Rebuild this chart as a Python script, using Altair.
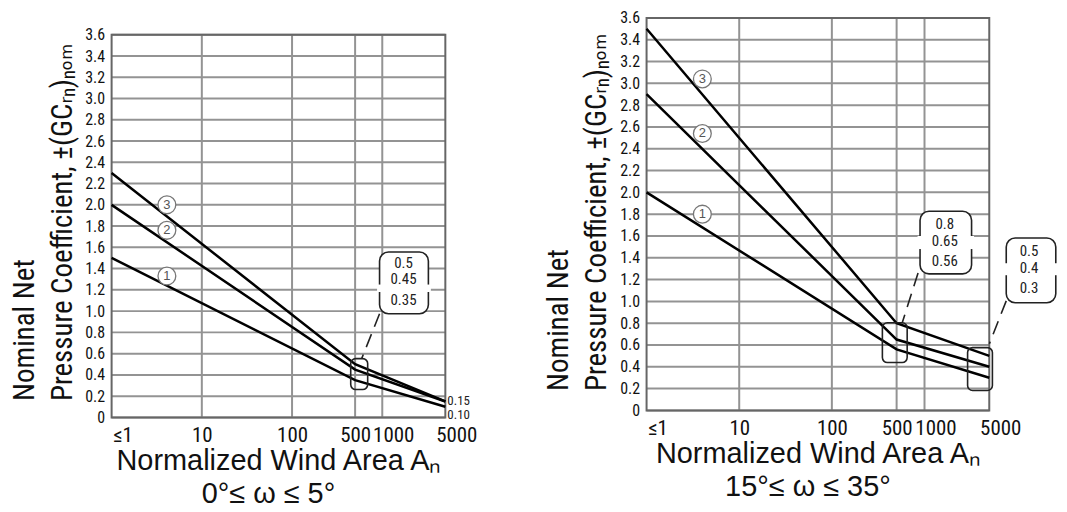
import altair as alt
import pandas as pd

# ---------------- data ----------------
area_pts = [1, 500, 5000]                 # normalized wind area vertices
left_zone1 = [1.5, 0.35, 0.10]
left_zone2 = [2.0, 0.45, 0.15]
left_zone3 = [2.3, 0.5, 0.15]
right_zone1 = [2.0, 0.56, 0.3]
right_zone2 = [2.9, 0.65, 0.4]
right_zone3 = [3.5, 0.8, 0.5]
zone_names = ["1", "2", "3"]

y_tick_values = [0, 0.2, 0.4, 0.6, 0.8, 1.0, 1.2, 1.4, 1.6, 1.8, 2.0,
                 2.2, 2.4, 2.6, 2.8, 3.0, 3.2, 3.4, 3.6]
x_tick_values = [1, 10, 100, 500, 1000, 5000]
x_inner_grid = [10, 100, 500, 1000]

# circled zone markers (area, coefficient)
left_marker_x = [4.1, 4.1, 4.1]
left_marker_y = [1.33, 1.76, 2.0]
right_marker_x = [4.0, 4.0, 4.0]
right_marker_y = [1.80, 2.54, 3.04]

# call-out annotations (values shown in boxes)
left_call_text = ["0.5", "0.45", "0.35"]
left_call_text_y = [1.45, 1.30, 1.10]
right_call1_text = ["0.8", "0.65", "0.56"]
right_call1_text_y = [1.71, 1.55, 1.37]
right_call2_text = ["0.5", "0.4", "0.3"]
right_call2_text_y = [1.46, 1.31, 1.12]

left_end_labels = ["0.15", "0.10"]
left_end_label_y = [0.15, 0.02]

Y_TITLE = ["Nominal Net", "Pressure Coefficient, \u00b1(GC\u1d63\u2099)\u2099\u2092\u2098"]
PAD = "\u2800"   # blank (non-whitespace) glyph used to nudge the centred second title line

NARROW = ("Liberation Sans Narrow, Arial Narrow, Roboto Condensed, PT Sans Narrow, "
          "Archivo Narrow, DejaVu Sans Condensed, sans-serif")
SANS = "Liberation Sans, Arial, sans-serif"


def panel(zones, mx, my, callouts, end_labels, ytop, w, h, angle_text,
          title_x, title_y):
    xs = alt.Scale(type="log", domain=[1, 5000])
    ys = alt.Scale(domain=[0, ytop])

    xaxis = alt.Axis(values=x_tick_values, grid=False, ticks=False, domain=False,
                     labelExpr="datum.value < 2 ? '\u22641' : datum.value",
                     labelFont=NARROW, labelFontSize=21, labelColor="#111",
                     labelPadding=7, labelOverlap=False, labelFlush=False,
                     labelOffset={"condition": {"test": "datum.value < 2 || datum.value > 900",
                                                "value": 11}, "value": 0},
                     title=["Normalized Wind Area A\u2099", angle_text],
                     titleFont=SANS, titleFontSize=29, titleFontWeight="normal",
                     titleColor="#111", titleLineHeight=33, titlePadding=1)
    yaxis = alt.Axis(values=y_tick_values, grid=False, ticks=False, domain=False,
                     labelExpr="datum.value == 0 ? '0' : format(datum.value, '.1f')",
                     labelFont=NARROW, labelFontSize=16, labelColor="#111",
                     labelPadding=7, labelOverlap=False, labelFlush=False,
                     title=Y_TITLE, titleFont=NARROW, titleFontSize=29,
                     titleFontWeight="normal", titleColor="#111",
                     titleAngle=270, titleAlign="left", titleBaseline="middle",
                     titleLineHeight=38, titleX=title_x, titleY=title_y)

    def X(f="a:Q"):
        return alt.X(f, scale=xs, axis=xaxis)

    def Y(f="v:Q"):
        return alt.Y(f, scale=ys, axis=yaxis)

    hgrid_df = pd.DataFrame({"a": [1] * len(y_tick_values),
                             "a2": [5000] * len(y_tick_values),
                             "v": y_tick_values})
    hgrid = alt.Chart(hgrid_df).mark_rule(color="#939393", strokeWidth=2).encode(
        x=X(), x2="a2:Q", y=Y())

    vgrid_df = pd.DataFrame({"a": x_inner_grid, "v": [0] * 4, "v2": [3.6] * 4})
    vgrid = alt.Chart(vgrid_df).mark_rule(color="#939393", strokeWidth=2).encode(
        x=X(), y=Y(), y2="v2:Q")

    border_df = pd.DataFrame({"a": [1], "a2": [5000], "v": [0], "v2": [3.6]})
    border = alt.Chart(border_df).mark_rect(fill=None, stroke="#666", strokeWidth=2).encode(
        x=X(), x2="a2:Q", y=Y(), y2="v2:Q")

    rows = []
    for name, vals in zip(zone_names, zones):
        for a, v in zip(area_pts, vals):
            rows.append({"zone": name, "a": a, "v": v})
    lines = alt.Chart(pd.DataFrame(rows)).mark_line(color="black", strokeWidth=2.5).encode(
        x=X(), y=Y(), detail="zone:N")

    mk_df = pd.DataFrame({"a": mx, "v": my, "t": zone_names})
    mk_circle = alt.Chart(mk_df).mark_point(shape="circle", size=320, filled=True,
                                            fill="white", stroke="#777",
                                            strokeWidth=1.3, opacity=1).encode(
        x=X(), y=Y())
    mk_text = alt.Chart(mk_df).mark_text(font=SANS, fontSize=13, color="#555").encode(
        x=X(), y=Y(), text="t:N")

    layers = [hgrid, vgrid, border, lines, mk_circle, mk_text]

    for c in callouts:
        bx = pd.DataFrame({"a": [c["box"][0]], "a2": [c["box"][1]],
                           "v": [c["box"][2]], "v2": [c["box"][3]]})
        layers.append(alt.Chart(bx).mark_rect(fill="white", stroke="#222", strokeWidth=1.6,
                                              cornerRadius=9).encode(
            x=X(), x2="a2:Q", y=Y(), y2="v2:Q"))
        gp = pd.DataFrame({"a": [c["box"][0], c["box"][1]],
                           "v": [c["gap"][0]] * 2, "v2": [c["gap"][1]] * 2})
        layers.append(alt.Chart(gp).mark_rule(color="white", strokeWidth=5).encode(
            x=X(), y=Y(), y2="v2:Q"))
        tx = pd.DataFrame({"a": [c["tx"]] * 3, "v": c["ty"], "t": c["text"]})
        layers.append(alt.Chart(tx).mark_text(font=NARROW, fontSize=15, color="#222").encode(
            x=X(), y=Y(), text="t:N"))
        ld = pd.DataFrame({"a": [c["lead"][0]], "a2": [c["lead"][1]],
                           "v": [c["lead"][2]], "v2": [c["lead"][3]]})
        layers.append(alt.Chart(ld).mark_rule(color="#222", strokeWidth=1.6,
                                              strokeDash=[14, 8]).encode(
            x=X(), x2="a2:Q", y=Y(), y2="v2:Q"))
        sb = pd.DataFrame({"a": [c["small"][0]], "a2": [c["small"][1]],
                           "v": [c["small"][2]], "v2": [c["small"][3]]})
        layers.append(alt.Chart(sb).mark_rect(fill=None, stroke="#222", strokeWidth=1.6,
                                              cornerRadius=5).encode(
            x=X(), x2="a2:Q", y=Y(), y2="v2:Q"))

    if end_labels:
        el = pd.DataFrame({"a": [5000] * len(end_labels[0]), "v": end_labels[1],
                           "t": end_labels[0]})
        layers.append(alt.Chart(el).mark_text(font=NARROW, fontSize=13, color="#222",
                                              align="left", dx=2).encode(
            x=X(), y=Y(), text="t:N"))

    return alt.layer(*layers).properties(width=w, height=h)


left_callouts = [dict(box=(933, 3244, 0.975, 1.556), gap=(1.18, 1.25), tx=1718,
                      ty=left_call_text_y, text=left_call_text,
                      lead=(933, 591, 0.975, 0.553), small=(447, 689, 0.262, 0.553))]
right_callouts = [dict(box=(895, 3221, 1.252, 1.827), gap=(1.48, 1.60), tx=1656,
                       ty=right_call1_text_y, text=right_call1_text,
                       lead=(852, 575, 1.261, 0.804), small=(351, 650, 0.439, 0.804)),
                  dict(box=(7625, 26120, 0.987, 1.581), gap=(1.24, 1.35), tx=13430,
                       ty=right_call2_text_y, text=right_call2_text,
                       lead=(7625, 5015, 1.005, 0.612), small=(2918, 5405, 0.183, 0.576))]

left = panel([left_zone1, left_zone2, left_zone3], left_marker_x, left_marker_y,
             left_callouts, (left_end_labels, left_end_label_y), 3.834, 335, 409,
             "0\u00b0\u2264 \u03c9 \u2264 5\u00b0" + PAD, -87, 392)
right = panel([right_zone1, right_zone2, right_zone3], right_marker_x, right_marker_y,
              right_callouts, None, 3.673, 344, 402,
              "15\u00b0\u2264 \u03c9 \u2264 35\u00b0" + PAD, -88, 382)

chart = alt.hconcat(left, right, spacing=67).properties(
    padding={"left": 2, "top": 0, "right": 0, "bottom": 0}
).configure_view(strokeWidth=0, stroke="transparent")

chart.save("out.html", embed_options={"renderer": "svg", "actions": False})
